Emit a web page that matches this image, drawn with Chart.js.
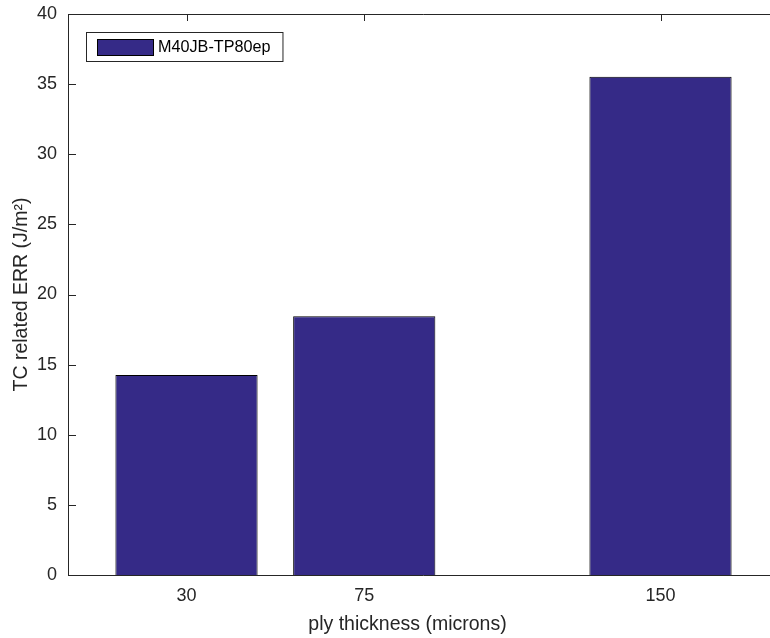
<!DOCTYPE html>
<html>
<head>
<meta charset="utf-8">
<script src="https://cdn.jsdelivr.net/npm/chart.js@4.4.1/dist/chart.umd.min.js"></script>
<style>
  html, body { margin: 0; padding: 0; background: #fff; overflow: hidden; }
  #wrap { width: 770px; height: 638px; overflow: hidden; }
</style>
</head>
<body>
<div id="wrap"><canvas id="chart" width="779" height="638"></canvas></div>
<script>
// data
var thickness = [30, 75, 150];
var errValues = [14.26, 18.45, 35.53];
var xTickValues = [30, 75, 150];
var seriesName = 'M40JB-TP80ep';

var axisColor = '#262626';
var fontFamily = "'Liberation Sans', Arial, Helvetica, sans-serif";

var points = [];
for (var i = 0; i < thickness.length; i++) {
    points.push({ x: thickness[i], y: errValues[i] });
}

// axes box with inward ticks, drawn under the bars like matlab does
var axesBox = {
    id: 'axesBox',
    beforeDatasetsDraw: function (chart) {
        var ctx = chart.ctx;
        var a = chart.chartArea;
        var xs = chart.scales.x;
        var ys = chart.scales.y;
        ctx.save();
        ctx.strokeStyle = axisColor;
        ctx.lineWidth = 1;
        ctx.beginPath();
        ctx.moveTo(a.left + 0.5, a.top + 0.5);
        ctx.lineTo(a.right, a.top + 0.5);
        ctx.moveTo(a.left + 0.5, a.top + 0.5);
        ctx.lineTo(a.left + 0.5, a.bottom + 0.5);
        ctx.lineTo(a.right, a.bottom + 0.5);
        ys.ticks.forEach(function (t) {
            var py = Math.round(ys.getPixelForValue(t.value)) + 0.5;
            ctx.moveTo(a.left, py);
            ctx.lineTo(a.left + 8, py);
            ctx.moveTo(a.right, py);
            ctx.lineTo(a.right - 8, py);
        });
        xs.ticks.forEach(function (t) {
            var px = Math.round(xs.getPixelForValue(t.value)) + 0.5;
            ctx.moveTo(px, a.bottom);
            ctx.lineTo(px, a.bottom - 7);
            ctx.moveTo(px, a.top);
            ctx.lineTo(px, a.top + 7);
        });
        ctx.stroke();
        ctx.restore();
    }
};

// legend box inside the axes, upper left
var insideLegend = {
    id: 'insideLegend',
    afterDraw: function (chart) {
        var ctx = chart.ctx;
        var a = chart.chartArea;
        var ds = chart.data.datasets[0];
        ctx.save();
        ctx.font = '16.2px ' + fontFamily;
        var tw = ctx.measureText(ds.label).width;
        var bx = a.left + 18, by = a.top + 18;
        var bw = 11 + 56 + 5 + tw + 12, bh = 29;
        ctx.fillStyle = '#fff';
        ctx.fillRect(bx, by, bw, bh);
        ctx.strokeStyle = axisColor;
        ctx.lineWidth = 1;
        ctx.strokeRect(bx + 0.5, by + 0.5, bw, bh);
        ctx.fillStyle = ds.backgroundColor;
        ctx.fillRect(bx + 11, by + 7, 56, 16);
        ctx.strokeStyle = '#000';
        ctx.strokeRect(bx + 11.5, by + 7.5, 56, 16);
        ctx.fillStyle = '#000';
        ctx.textBaseline = 'middle';
        ctx.textAlign = 'left';
        ctx.fillText(ds.label, bx + 11 + 56 + 5, by + 15.5);
        ctx.restore();
    }
};

// x label, placed where the reference has it
var xLabel = {
    id: 'xLabel',
    afterDraw: function (chart) {
        var ctx = chart.ctx;
        ctx.save();
        ctx.font = '19.5px ' + fontFamily;
        ctx.fillStyle = axisColor;
        ctx.textAlign = 'center';
        ctx.textBaseline = 'alphabetic';
        ctx.fillText('ply thickness (microns)', 407.5, 630);
        ctx.restore();
    }
};

var ctx = document.getElementById('chart').getContext('2d');
var chart = new Chart(ctx, {
    type: 'bar',
    data: {
        datasets: [{
            label: seriesName,
            data: points,
            backgroundColor: '#352A87',
            borderColor: '#000000',
            borderWidth: 1,
            categoryPercentage: 1,
            barPercentage: 0.8
        }]
    },
    options: {
        responsive: false,
        animation: false,
        layout: { padding: { top: 14, left: 0, right: 0, bottom: 0 } },
        plugins: {
            legend: { display: false },
            tooltip: { enabled: false }
        },
        scales: {
            x: {
                type: 'linear',
                min: 0,
                max: 180,
                offset: false,
                grid: { display: false, drawTicks: false },
                border: { display: false },
                afterBuildTicks: function (scale) {
                    scale.ticks = xTickValues.map(function (v) { return { value: v }; });
                },
                afterFit: function (scale) {
                    scale.height = 63;
                    scale.paddingLeft = 0;
                    scale.paddingRight = 0;
                },
                ticks: {
                    color: axisColor,
                    padding: 10,
                    maxRotation: 0,
                    font: { family: fontFamily, size: 18 }
                }
            },
            y: {
                min: 0,
                max: 40,
                grid: { display: false, drawTicks: false },
                border: { display: false },
                afterFit: function (scale) {
                    scale.width = 68;
                    scale.paddingTop = 0;
                    scale.paddingBottom = 0;
                },
                ticks: {
                    stepSize: 5,
                    color: axisColor,
                    padding: 11,
                    font: { family: fontFamily, size: 18 }
                },
                title: {
                    display: true,
                    text: 'TC related ERR (J/m²)',
                    color: axisColor,
                    padding: { top: 10, bottom: 0 },
                    font: { family: fontFamily, size: 19.5 }
                }
            }
        }
    },
    plugins: [axesBox, insideLegend, xLabel]
});
</script>
</body>
</html>
